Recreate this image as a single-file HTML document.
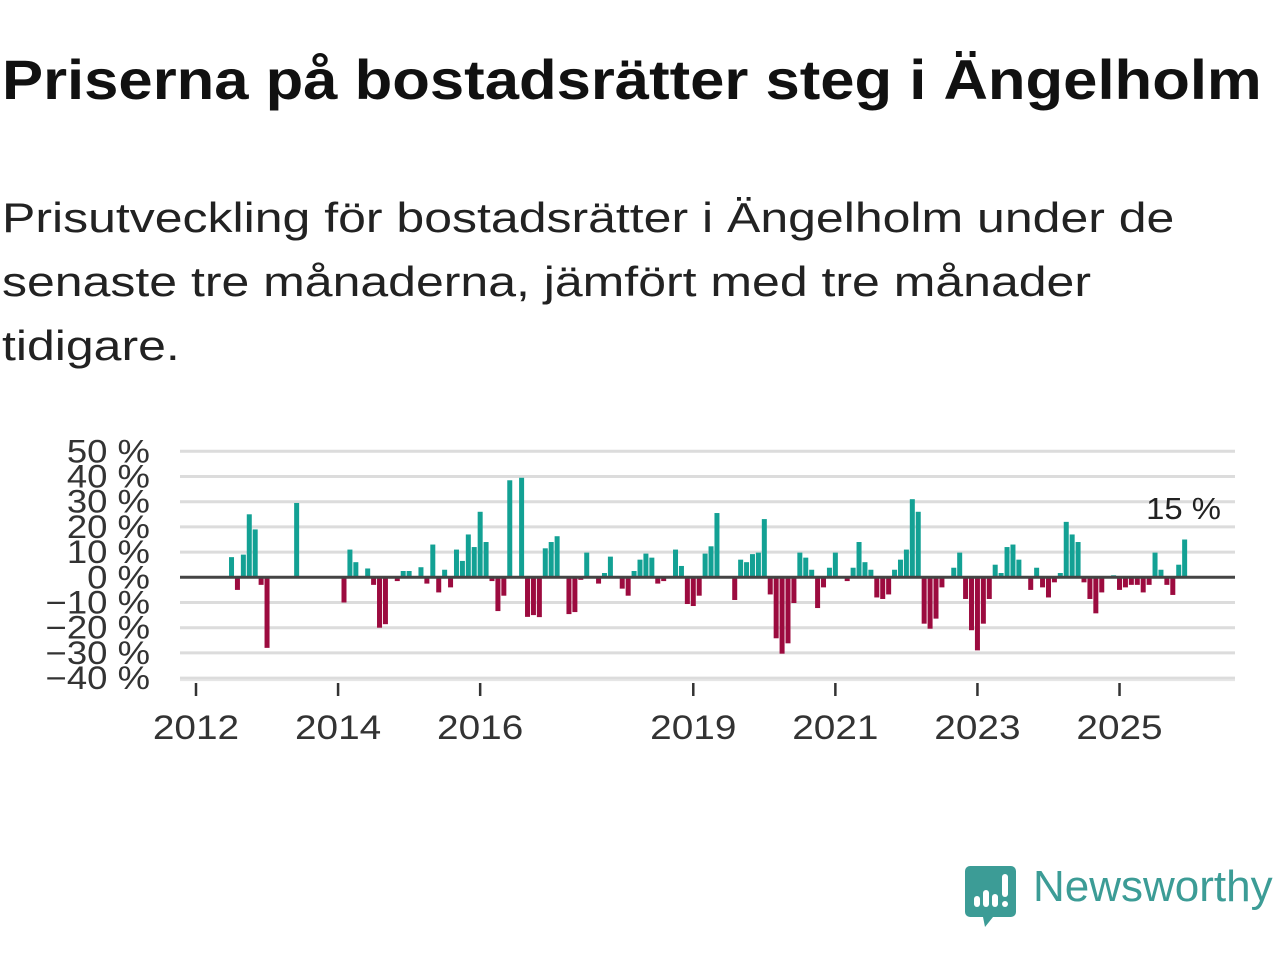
<!DOCTYPE html>
<html><head><meta charset="utf-8">
<style>
html,body{margin:0;padding:0;background:#fff;width:1280px;height:960px;overflow:hidden;font-family:"Liberation Sans",sans-serif;}
h1{position:absolute;left:2px;top:47px;margin:0;font-size:56px;font-weight:bold;color:#111;white-space:nowrap;transform-origin:0 0;transform:scaleX(1.1)}
.sub{position:absolute;left:2px;top:186px;margin:0;font-size:42px;line-height:64px;color:#222;white-space:nowrap;transform-origin:0 0;transform:scaleX(1.19)}
svg{position:absolute;left:0;top:0}
</style></head><body>
<h1>Priserna på bostadsrätter steg i Ängelholm</h1>
<p class="sub">Prisutveckling för bostadsrätter i Ängelholm under de<br>senaste tre månaderna, jämfört med tre månader<br>tidigare.</p>
<svg id="chart" width="1280" height="960"></svg>
<div style="position:absolute;left:965px;top:866px;">
<svg width="52" height="62" style="position:absolute;left:0;top:0"><path d="M4 0h42a5 5 0 0 1 5 5v41a5 5 0 0 1-5 5H28l-8 10-2-10H5a5 5 0 0 1-5-5V5a5 5 0 0 1 5-5z" fill="#3c9c96"/><rect x="9" y="30" width="6" height="11" rx="3" fill="#fff"/><rect x="18" y="24" width="6" height="17" rx="3" fill="#fff"/><rect x="27" y="28" width="6" height="13" rx="3" fill="#fff"/><rect x="37" y="8" width="6" height="23" rx="3" fill="#fff"/><circle cx="40" cy="38" r="3" fill="#fff"/></svg>
<span style="position:absolute;left:68px;top:-4px;font-size:44px;color:#3c9c96;white-space:nowrap">Newsworthy</span>
</div>
<script>
const values=[null,null,null,null,null,null,8,-5,9,25,19,-3,-28,null,null,null,null,29.5,null,null,null,null,null,null,
null,-10,11,6,null,3.5,-3,-20,-18.6,-0.5,-1.5,2.5,2.5,null,4,-2.5,13,-6,3,-4,11,6.5,17,12,
26,14,-1.5,-13.4,-7.3,38.5,null,39.5,-15.7,-15,-15.8,11.5,14,16.3,null,-14.6,-13.8,-1,9.8,null,-2.5,1.7,8.2,0.5,
-4.5,-7.3,2.5,7,9.4,7.8,-2.5,-1.5,null,11,4.5,-10.6,-11.4,-7.3,9.4,12.3,25.5,null,null,-9,7,6,9.2,9.8,
23.1,-6.8,-24.2,-30.3,-26.2,-10.2,9.8,7.8,3,-12.2,-4,3.8,9.8,null,-1.5,3.8,14,6,3,-8,-8.6,-6.8,3,7,
11,31,26,-18.4,-20.4,-16.4,-4,null,3.8,9.8,-8.6,-21,-29,-18.4,-8.6,5,1.7,12,13,7,null,-5,3.8,-4,
-8,-2,1.7,22,17,14,-2,-8.6,-14.3,-6,null,0.8,-5,-4,-3,-3,-6,-3,9.8,3,-3,-7,5,15];
const yTicks=[50,40,30,20,10,0,-10,-20,-30,-40];
const xTickYears=[2012,2014,2016,2019,2021,2023,2025];
const lastLabel="15 %";
const NS="http://www.w3.org/2000/svg";
const svg=document.getElementById('chart');
const x0=196, pxMonth=5.92, zeroY=577.3, pxUnit=2.52;
const xScale=i=>x0+i*pxMonth;
const yScale=v=>zeroY-v*pxUnit;
function mk(t,a){const e=document.createElementNS(NS,t);for(const k in a)e.setAttribute(k,a[k]);svg.appendChild(e);return e;}
function stretch(t,f){const w=t.getComputedTextLength();t.setAttribute('textLength',w*f);t.setAttribute('lengthAdjust','spacingAndGlyphs');}
yTicks.forEach(v=>{
  if(v!==0){const g=mk('line',{x1:180,x2:1235,y1:yScale(v),y2:yScale(v),stroke:'#dcdcdc','stroke-width':3});
  
  }
  const t=mk('text',{x:150,y:yScale(v)+11,'text-anchor':'end','font-size':32,fill:'#333','font-family':'Liberation Sans, sans-serif'});
  t.textContent=(v<0?'\u2212'+(-v):v)+' %';
  
  
  stretch(t,1.14);
});
const base=mk('line',{x1:180,x2:1235,y1:yScale(-40)+2,y2:yScale(-40)+2,stroke:'#e6e6e6','stroke-width':2});


values.forEach((v,i)=>{
  if(v===null)return;
  const y1=yScale(Math.max(v,0)),y2=yScale(Math.min(v,0));
  const r=mk('rect',{x:xScale(i)-2.5,y:y1,width:5,height:Math.max(y2-y1,0.8),fill:v>=0?'#13a194':'#9c0b3f'});
  
  
});
const z=mk('line',{x1:180,x2:1235,y1:zeroY,y2:zeroY,stroke:'#444','stroke-width':3});


xTickYears.forEach(yr=>{
  const x=xScale((yr-2012)*12);
  const tk=mk('line',{x1:x,x2:x,y1:683,y2:696,stroke:'#333','stroke-width':2.5});
  
  
  const t=mk('text',{x:x,y:739,'text-anchor':'middle','font-size':34,fill:'#333','font-family':'Liberation Sans, sans-serif'});
  t.textContent=yr;
  
  
  stretch(t,1.14);
});
const lab=mk('text',{x:1221,y:519,'text-anchor':'end','font-size':31,fill:'#222','font-family':'Liberation Sans, sans-serif'});
lab.textContent=lastLabel;


stretch(lab,1.06);
</script>
</body></html>
